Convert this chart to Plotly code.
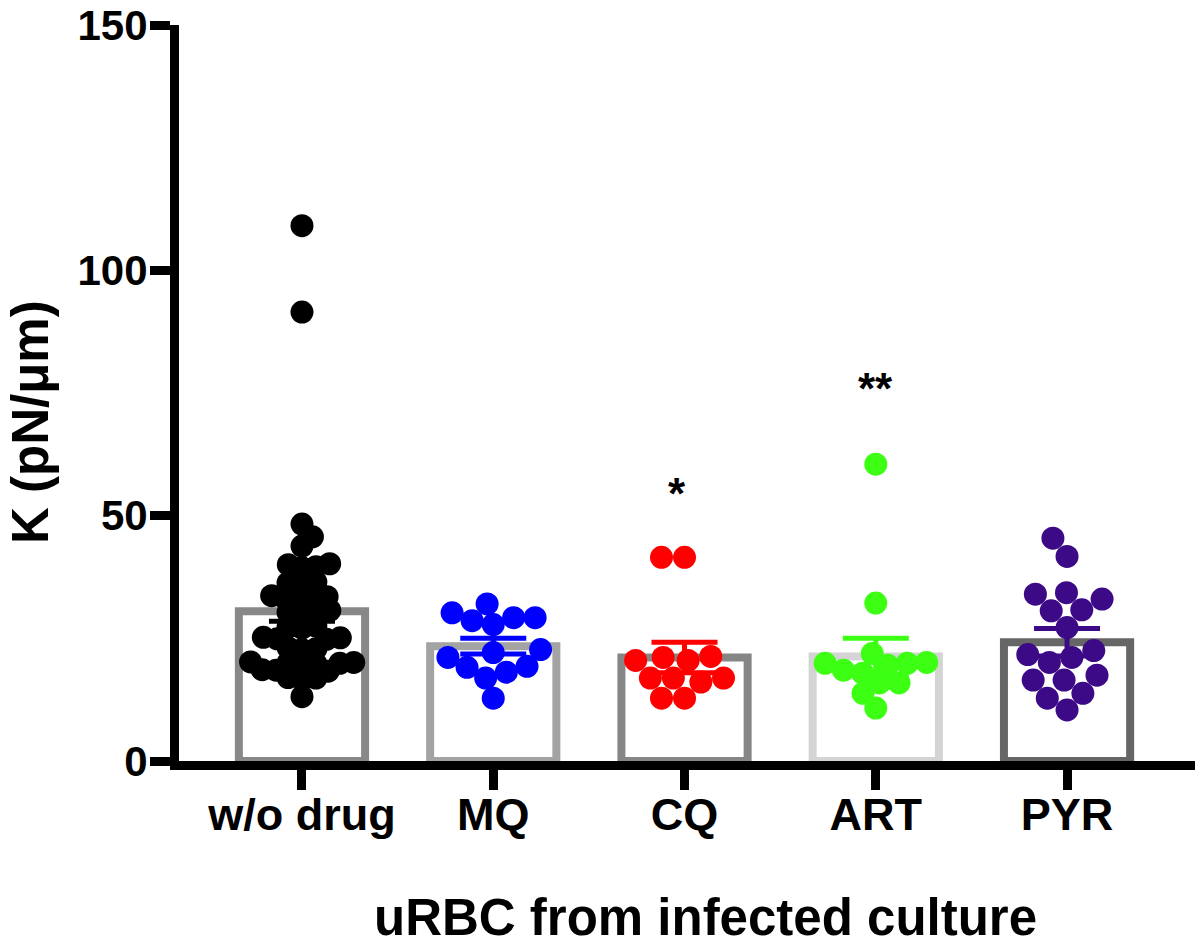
import math
import plotly.graph_objects as go

# groups on the x axis
groups = ["w/o drug", "MQ", "CQ", "ART", "PYR"]

# stiffness values K (pN/um) for each group
k_no_drug = [48.3, 45.7, 43.8, 40.0, 39.6, 39.4, 40.2, 36.5, 36.1, 36.3,
             33.5, 33.1, 33.3, 33.7, 32.9, 30.7, 30.3, 30.5, 30.1, 27.3,
             27.1, 27.5, 25.1, 24.8, 24.9, 25.2, 22.9, 22.7, 23.1, 20.1,
             19.8, 19.9, 19.7, 20.0, 20.2, 18.6, 18.3, 18.5, 17.0, 16.7,
             16.9, 13.1, 109.1, 91.5]
k_mq = [32.0, 27.8, 29.2, 28.6, 29.2, 30.2, 22.1, 21.1, 22.7, 19.3,
        18.1, 19.1, 16.9, 12.8]
k_cq = [41.5, 41.5, 21.1, 20.5, 20.5, 21.3, 16.9, 16.1, 16.9, 16.9,
        12.8, 12.8]
k_art = [60.5, 32.2, 21.9, 19.9, 19.5, 17.9, 15.9, 18.5, 20.1, 19.9,
         15.9, 13.8, 10.8]
k_pyr = [45.4, 41.7, 34.3, 33.0, 34.0, 30.6, 30.8, 27.2, 21.7, 20.1,
         22.5, 21.1, 16.5, 17.5, 16.5, 13.8, 12.8, 10.4]
all_values = [k_no_drug, k_mq, k_cq, k_art, k_pyr]

# bar heights (mean) and error bars (SEM)
bar_mean = [30.5, 23.4, 21.1, 21.3, 24.2]
bar_sem = [2.0, 1.6, 3.1, 3.7, 2.8]

# significance marks
stars = ["", "", "*", "**", ""]

dot_colors = ["#000000", "#0000ff", "#ff0000", "#3cff14", "#3d0a87"]
bar_colors = ["#888888", "#a3a3a3", "#868686", "#d4d4d4", "#666666"]
star_pos = [0, 0, 54.5, 76, 0]

FONT = "Liberation Sans, Arial, sans-serif"
W, H = 1200, 951
MARGIN = dict(l=179, r=5, t=25, b=190)
X_RANGE = [-0.643, 4.669]
Y_RANGE = [0, 150]
PX_X = (W - MARGIN["l"] - MARGIN["r"]) / (X_RANGE[1] - X_RANGE[0])
PX_Y = (H - MARGIN["t"] - MARGIN["b"]) / (Y_RANGE[1] - Y_RANGE[0])
MAX_HALF_WIDTH = 52  # px, dots are squeezed to stay inside the column


def swarm_once(values, gap):
    placed = []
    offsets = [0.0] * len(values)
    order = sorted(range(len(values)), key=lambda i: values[i])
    side = 1
    for i in order:
        y = values[i] * PX_Y
        cands = [0.0]
        for px, py in placed:
            dy = abs(y - py)
            if dy < gap:
                dx = math.sqrt(gap * gap - dy * dy)
                cands += [px + dx, px - dx]
        ok = [c for c in cands
              if all((c - px) ** 2 + (y - py) ** 2 >= gap * gap - 1e-6 for px, py in placed)]
        best = min(ok, key=lambda c: (round(abs(c), 6), -side * c))
        side = -side
        placed.append((best, y))
        offsets[i] = best
    return offsets


def swarm(values):
    """Beeswarm x offsets (axis units); the gap shrinks until the swarm fits."""
    gap = 23.0
    offs = swarm_once(values, gap)
    while max(abs(o) for o in offs) > MAX_HALF_WIDTH and gap > 8:
        gap -= 0.5
        offs = swarm_once(values, gap)
    return [o / PX_X for o in offs]


fig = go.Figure()

# hollow bars with SEM error bars
for i, g in enumerate(groups):
    fig.add_trace(go.Bar(
        x=[i], y=[bar_mean[i]], width=0.66, name=g,
        marker=dict(color="rgba(255,255,255,0)", line=dict(color=bar_colors[i], width=8)),
        error_y=dict(type="data", array=[bar_sem[i]], color=dot_colors[i], thickness=5, width=33),
    ))

# individual cells
for i, g in enumerate(groups):
    vals = all_values[i]
    offs = swarm(vals)
    fig.add_trace(go.Scatter(
        x=[i + o for o in offs], y=vals, mode="markers", name=g,
        marker=dict(size=23, color=dot_colors[i], line=dict(width=0)),
    ))

for i, s in enumerate(stars):
    if s:
        fig.add_annotation(x=i, y=star_pos[i], text=s, showarrow=False,
                           xshift=-8 if len(s) == 1 else 0,
                           font=dict(family=FONT, size=44, color="black", weight="bold"))

# axis titles (placed as annotations so they sit where the original has them)
title_font = dict(family=FONT, size=51, color="black", weight="bold")
fig.add_annotation(text="uRBC from infected culture", xref="paper", yref="paper",
                   x=0.5187, y=-0.2133, xanchor="center", yanchor="middle",
                   showarrow=False, font=title_font)
fig.add_annotation(text="K (pN/μm)", xref="paper", yref="paper", textangle=-90,
                   x=-0.1457, y=0.4606, xanchor="center", yanchor="middle",
                   showarrow=False, font=title_font)

axis_style = dict(
    showline=True, linewidth=9, linecolor="black",
    ticks="outside", ticklen=20, tickwidth=9, tickcolor="black",
    showgrid=False, zeroline=False, ticklabeloverflow="allow", automargin=False,
)

fig.update_layout(
    width=W, height=H, margin=MARGIN,
    barmode="overlay", showlegend=False,
    plot_bgcolor="white", paper_bgcolor="white",
    xaxis=dict(range=X_RANGE, tickvals=list(range(len(groups))), ticktext=groups,
               ticklabelstandoff=-14,
               tickfont=dict(family=FONT, size=45, color="black", weight="bold"),
               **axis_style),
    yaxis=dict(range=Y_RANGE, tickvals=[0, 50, 100, 150], ticklabelstandoff=-6,
               tickfont=dict(family=FONT, size=42, color="black", weight="bold"),
               **axis_style),
)

# drop the default 8px body margin so the figure fills the window exactly
fig.write_html("out.html", config={"displayModeBar": False},
               post_script="document.body.style.margin = '0px';")
